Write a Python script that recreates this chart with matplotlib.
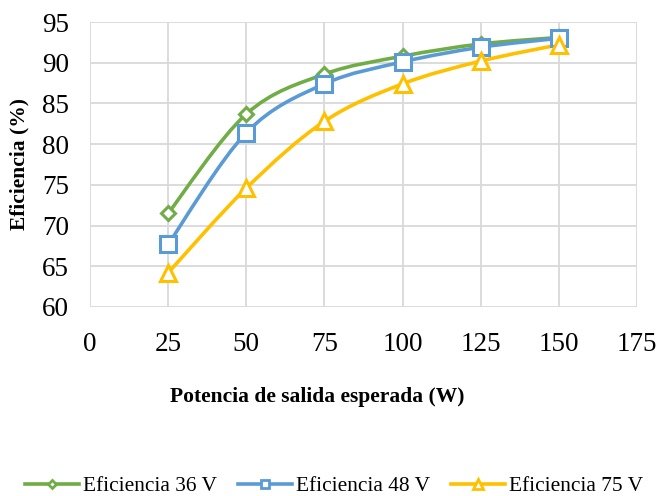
import numpy as np
import matplotlib
matplotlib.use('Agg')
import matplotlib.pyplot as plt
from matplotlib.path import Path
from matplotlib.patches import PathPatch
from matplotlib.lines import Line2D

potencia = [25, 50, 75, 100, 125, 150]
ef_36 = [71.5, 83.7, 88.6, 90.8, 92.3, 93.1]
ef_48 = [67.7, 81.4, 87.4, 90.1, 91.9, 93.0]
ef_75 = [64.2, 74.6, 82.8, 87.4, 90.2, 92.2]

series = [
    ('Eficiencia 36 V', ef_36, '#70ad47', 'D', 7),
    ('Eficiencia 48 V', ef_48, '#5b9bd5', 's', 11),
    ('Eficiencia 75 V', ef_75, '#ffc000', '^', 12),
]

plt.rcParams['font.family'] = ['Liberation Serif', 'DejaVu Serif']


def smooth_path(x, y, t=1.0 / 6):
    # Catmull-Rom style bezier, like Excel's smoothed lines
    x = np.asarray(x, float)
    y = np.asarray(y, float)
    verts = [(x[0], y[0])]
    codes = [Path.MOVETO]
    n = len(x)
    for i in range(n - 1):
        p0 = i - 1 if i > 0 else i
        p3 = i + 2 if i + 2 < n else i + 1
        c1 = (x[i] + (x[i + 1] - x[p0]) * t, y[i] + (y[i + 1] - y[p0]) * t)
        c2 = (x[i + 1] - (x[p3] - x[i]) * t, y[i + 1] - (y[p3] - y[i]) * t)
        verts += [c1, c2, (x[i + 1], y[i + 1])]
        codes += [Path.CURVE4] * 3
    return Path(verts, codes)


fig = plt.figure(figsize=(6.57, 4.96), dpi=100)
ax = fig.add_axes([90 / 657, 1 - 307 / 496, (637 - 90) / 657, (307 - 22) / 496])

handles = []
for label, vals, color, mk, ms in series:
    ax.add_patch(PathPatch(smooth_path(potencia, vals), facecolor='none',
                           edgecolor=color, lw=2.6, zorder=3, capstyle='round'))
    ax.plot(potencia, vals, linestyle='none', marker=mk, ms=ms, mfc='white',
            mec=color, mew=2.2, zorder=4)
    handles.append(Line2D([], [], color=color, lw=2.6, marker=mk, ms=ms * 0.55,
                          mfc='white', mec=color, mew=2.0, label=label))

ax.set_xlim(0, 175)
ax.set_ylim(60, 95)
ax.set_xticks(range(0, 176, 25))
ax.set_yticks(range(60, 96, 5))
ax.grid(True, color='#d9d9d9', lw=1.3)
ax.set_axisbelow(True)
for s in ax.spines.values():
    s.set_visible(False)
ax.tick_params(length=0, labelsize=19.5)
ax.tick_params(axis='y', pad=15)
ax.tick_params(axis='x', pad=18)

fig.text(19 / 657, 1 - 164 / 496, 'Eficiencia (%)', fontsize=15.5, fontweight='bold',
         rotation=90, ha='center', va='center')
fig.text(317 / 657, 1 - 397 / 496, 'Potencia de salida esperada (W)', fontsize=15.5,
         fontweight='bold', ha='center', va='center')

fig.legend(handles=handles, loc='center', bbox_to_anchor=(334 / 657, 1 - 486 / 496), ncol=3,
           frameon=False, fontsize=15.4, handlelength=2.55, columnspacing=0.95,
           handletextpad=0.2, borderpad=0, borderaxespad=0)

fig.savefig('out.png', dpi=100)
